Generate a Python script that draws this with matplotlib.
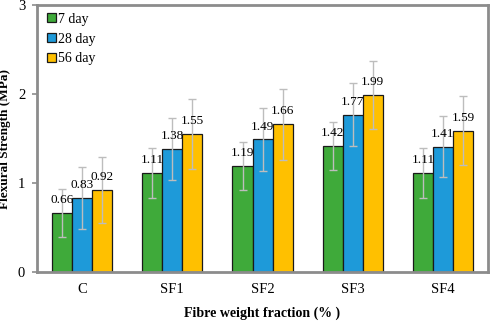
import matplotlib
matplotlib.use("Agg")
import matplotlib.pyplot as plt
import numpy as np

categories = ["C", "SF1", "SF2", "SF3", "SF4"]
series_names = ["7 day", "28 day", "56 day"]
day7 = [0.66, 1.11, 1.19, 1.42, 1.11]
day28 = [0.83, 1.38, 1.49, 1.77, 1.41]
day56 = [0.92, 1.55, 1.66, 1.99, 1.59]
err7 = [0.27, 0.28, 0.27, 0.27, 0.28]
err28 = [0.35, 0.35, 0.35, 0.35, 0.34]
err56 = [0.37, 0.39, 0.40, 0.38, 0.39]
colors = ["#3FAA3A", "#1E9AD9", "#FFC000"]

plt.rcParams['font.family'] = ['Liberation Serif', 'DejaVu Serif']

fig = plt.figure(figsize=(4.91, 3.21), dpi=100)
ax = fig.add_axes([0.0754, 0.1526, 0.9186, 0.8314])

x = np.arange(len(categories))
w = 0.222
vals = [day7, day28, day56]
errs = [err7, err28, err56]
for i, (v, e, c, n) in enumerate(zip(vals, errs, colors, series_names)):
    pos = x + (i - 1) * w
    ax.bar(pos, v, width=w, color=c, edgecolor="#1a1a1a", linewidth=0.9, label=n, zorder=2)
    ax.errorbar(pos, v, yerr=e, fmt="none", ecolor="#BDBDBD", elinewidth=1.0,
                capsize=3, capthick=1.0, zorder=3)
    for p, val in zip(pos, v):
        ax.annotate(f"{val:.2f}", (p, val), xytext=(0, 5), textcoords="offset points",
                    ha="center", va="bottom", fontsize=9.5, zorder=4)

ax.set_xlim(-0.5, 4.5)
ax.set_ylim(0, 3)
ax.set_yticks([0, 1, 2, 3])
ax.set_xticks(x)
ax.set_xticklabels(categories)
for s in ax.spines.values():
    s.set_color("#8C8C8C")
    s.set_linewidth(2)
ax.tick_params(axis="y", direction="out", length=3.5, width=1.2, color="#8C8C8C",
               labelsize=10.5, pad=5)
ax.tick_params(axis="x", length=0, labelsize=10.5, pad=8)

ax.set_ylabel("Flexural Strength (MPa)", fontsize=9.5, fontweight="bold")
ax.yaxis.set_label_coords(-0.058, 0.5)
ax.set_xlabel("Fibre weight fraction (% )", fontsize=10, fontweight="bold")
ax.xaxis.set_label_coords(0.5, -0.13)

leg = ax.legend(loc="upper left", frameon=False, fontsize=10, handlelength=0.65,
                handleheight=0.65, handletextpad=0.15, labelspacing=0.5,
                borderaxespad=0.0, borderpad=0.0, bbox_to_anchor=(0.022, 0.972))

fig.savefig("out.png", dpi=100)
